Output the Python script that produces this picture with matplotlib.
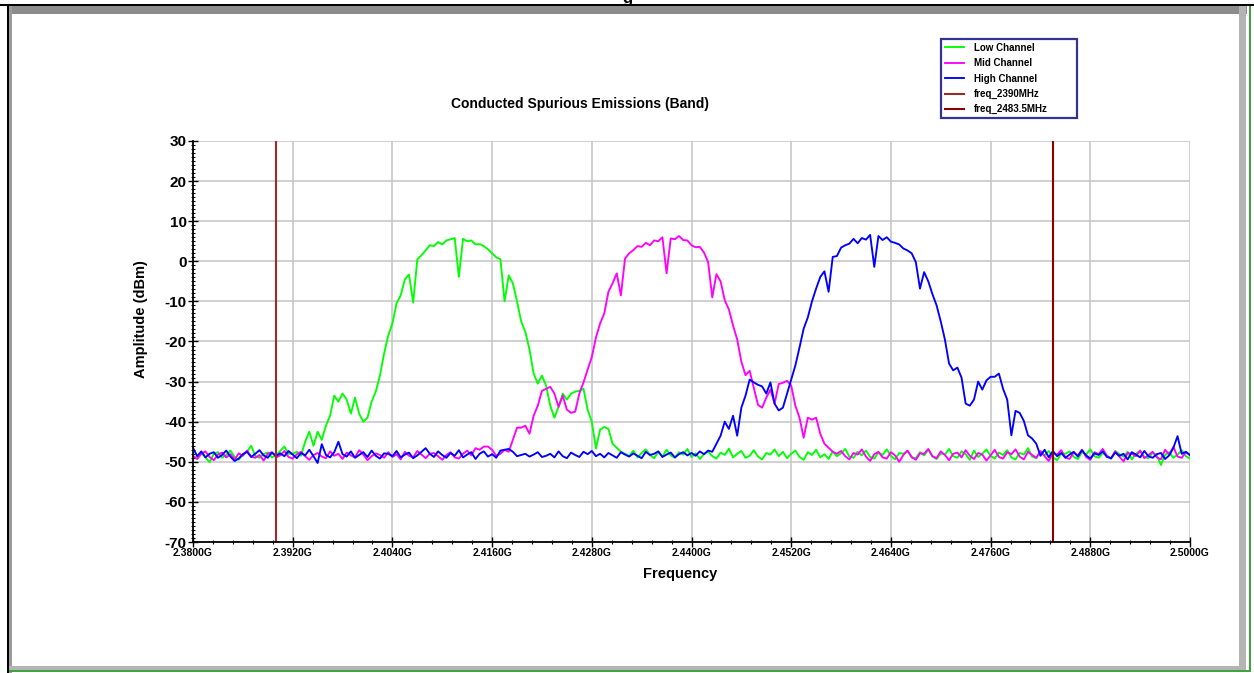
import matplotlib
matplotlib.use("Agg")
import matplotlib.pyplot as plt
from matplotlib.patches import Rectangle
from matplotlib.ticker import FixedLocator, MultipleLocator, FuncFormatter
import numpy as np

plt.rcParams['font.family'] = ['Liberation Sans', 'DejaVu Sans']
plt.rcParams['axes.unicode_minus'] = False

# sweep: 241 points from 2.380 GHz to 2.500 GHz
sweep_start = 2.380
sweep_stop = 2.500
sweep_points = 241

low_channel = [
    -48.5, -49.2, -47.8, -48.9, -50.1, -48.0, -47.6, -49.0, -48.3, -47.2, -48.8, -49.5,
    -48.2, -47.5, -46.0, -48.6, -49.0, -48.1, -47.7, -48.9, -48.4, -47.3, -46.2, -48.0,
    -48.0, -47.5, -48.5,
    -45.0, -42.5, -46.0, -42.5, -44.5, -41.0, -38.5, -33.5, -35.0, -33.0, -34.5, -38.0,
    -34.0, -38.0, -40.0, -39.0, -35.0, -32.5, -28.5, -23.0, -18.5, -15.5, -10.5, -8.5,
    -4.5, -3.3, -10.3, 0.5, 1.5, 2.7, 4.0, 3.8, 4.8, 4.2, 5.2, 5.5,
    5.8, -3.9, 5.6, 5.0, 5.2, 4.2, 4.3, 3.8, 3.0, 2.0, 1.0, 0.5,
    -10.0, -3.5, -5.5, -10.0, -15.0, -17.6, -22.0, -28.0, -30.5, -28.5, -31.0, -36.0,
    -39.0, -36.3, -33.0, -34.5, -33.0, -32.5, -32.3, -31.8, -37.0, -40.0, -46.7, -42.0,
    -41.3, -41.8, -45.5, -46.5, -47.5,
    -48.0, -48.6, -47.2, -48.9, -47.8, -46.9, -48.3, -49.1, -47.5, -48.7, -47.0, -48.4,
    -49.0, -47.6, -48.2, -46.8, -48.8, -47.9, -49.3, -48.1, -47.4, -48.6, -49.2, -47.7,
    -48.3, -46.7, -48.9, -48.0, -47.3, -49.0, -48.5, -47.1, -48.7, -49.4, -47.8, -48.2,
    -46.9, -48.6, -47.5, -49.1, -48.0, -47.2, -48.8, -49.5, -47.6, -48.3, -47.0, -48.9,
    -48.1, -49.3, -47.4, -48.6, -47.9, -46.8, -48.7, -49.0, -47.5, -48.4, -47.2, -48.8,
    -49.2, -47.7, -48.3, -46.9, -48.5, -49.4, -47.8, -48.0, -47.3, -48.9, -49.1, -47.6,
    -48.4, -47.0, -48.7, -49.3, -47.9, -48.2, -46.8, -48.6, -49.0, -47.4, -48.1, -49.5,
    -47.2, -48.8, -48.0, -46.9, -48.5, -49.2, -47.7, -48.3, -47.1, -48.9, -49.4, -47.8,
    -48.2, -46.6, -48.7, -49.1, -47.5, -48.4, -47.3, -48.9, -49.6, -47.9, -48.0, -47.4,
    -48.8, -49.3, -47.6, -48.2, -46.9, -48.6, -49.0, -47.8, -48.5, -49.2, -47.3, -48.1,
    -48.7, -47.5, -49.4, -48.0, -47.2, -48.8, -49.1, -47.7, -48.4, -50.8, -48.3, -47.6,
    -49.0, -48.2, -47.1, -48.6, -49.2,
]

mid_channel = [
    -48.6, -49.3, -48.0, -47.4, -48.8, -49.6, -48.2, -47.7, -48.9, -48.1, -49.4, -47.9,
    -48.5, -47.2, -48.7, -49.0, -48.3, -49.7, -48.0, -47.6, -48.9, -48.4, -47.3, -48.8,
    -49.2, -48.1, -47.5, -48.6, -49.5, -48.3, -47.8, -48.7, -49.1, -47.4, -48.5, -48.0,
    -49.3, -47.7, -48.4, -48.9, -47.1, -48.2, -49.6, -48.6, -47.9, -48.3, -49.0, -47.6,
    -48.8, -48.1, -49.4, -47.5, -48.5, -48.9, -47.3, -48.2, -49.1, -48.0, -47.8, -48.6,
    -49.5, -48.3, -47.6, -48.9, -49.2, -48.0, -47.2, -48.4, -46.6, -47.0, -46.2,
    -46.2, -47.0, -48.5, -48.0, -47.0, -47.5, -44.5, -41.5, -41.5, -41.0, -43.0, -38.5,
    -36.0, -32.3, -31.8, -31.3, -33.0, -36.3, -33.5, -37.0, -37.8, -37.5, -33.0, -30.2,
    -27.0, -23.9, -19.0, -15.5, -13.0, -7.6, -5.5, -3.0, -8.5, 0.7, 2.0, 2.8,
    3.8, 3.6, 4.6, 4.0, 5.2, 5.0, 6.0, -3.0, 5.7, 5.5, 6.3, 5.3,
    5.2, 4.0, 3.5, 3.6, 2.2, -0.2, -9.0, -3.2, -5.0, -9.7, -12.0, -16.0,
    -19.5, -25.0, -28.4, -27.3, -31.5, -35.8, -36.5, -34.0, -32.0, -35.5, -30.6, -30.3,
    -29.8, -31.0, -36.0, -39.0, -44.0, -39.0, -39.5, -39.0, -43.0, -45.5, -46.5, -47.5,
    -48.0, -47.3, -48.6, -49.4, -47.8, -48.2, -46.9, -48.7, -49.8, -48.1, -47.5, -48.9,
    -49.2, -47.6, -48.4, -50.0, -48.3, -47.2, -48.8, -49.5, -47.9, -48.0, -46.8, -48.6,
    -49.1, -47.4, -48.3, -49.6, -48.0, -47.7, -48.9, -47.1, -48.5, -49.3, -47.8, -48.2,
    -49.7, -48.4, -47.0, -48.8, -49.2, -47.6, -48.1, -46.9, -48.7, -49.4, -47.5, -48.3,
    -49.0, -47.3, -48.6, -49.8, -47.9, -48.2, -47.1, -48.9, -49.3, -47.7, -48.4, -47.0,
    -48.8, -49.5, -47.6, -48.1, -46.8, -48.5, -49.2, -47.4, -48.7, -49.9, -47.8, -48.0,
    -48.6, -47.2, -49.1, -48.3, -47.5, -48.9, -49.4, -47.0, -48.2, -46.3, -48.7, -49.0,
    -47.6, -48.4,
]

high_channel = [
    -46.5, -48.6, -47.4, -48.9, -48.0, -47.6, -49.0, -48.3, -47.2, -48.7, -49.8, -49.2,
    -48.1, -47.5, -48.8, -48.0, -47.1, -48.4, -49.0, -47.7, -48.5, -47.9, -48.6, -47.3,
    -48.2, -49.1, -47.8, -48.4, -47.0, -48.6, -50.3, -45.6, -48.3, -48.9, -47.6, -45.0,
    -48.1, -48.7, -47.4, -49.0, -48.3, -47.6, -48.8, -47.2, -48.5, -49.2, -47.9, -48.0,
    -48.6, -47.3, -48.9, -48.2, -47.7, -49.1, -48.4, -47.5, -46.6, -48.0, -48.8, -47.4,
    -48.3, -49.0, -47.8, -48.5, -47.1, -48.9, -48.2, -47.6, -49.3, -48.0, -47.4, -48.7,
    -48.1, -49.0, -47.2, -47.0, -46.8, -47.5, -48.6, -48.3, -48.0, -48.7, -48.2, -47.6,
    -48.8, -48.5, -48.0, -48.9, -47.4, -48.6, -49.1, -47.7, -48.3, -48.8, -47.5, -48.1,
    -47.3, -48.6, -48.0, -48.9, -47.8, -48.4, -49.0, -47.6, -48.2, -48.7, -47.9, -48.5,
    -49.1, -47.5, -48.3, -48.0, -47.4, -48.8, -48.2, -47.7, -48.9, -48.1, -47.6, -48.4,
    -47.8, -48.5, -47.4, -48.1, -47.2,
    -47.5, -45.5, -43.5, -40.0, -41.8, -38.5, -43.5, -36.5, -33.5, -29.5, -30.2, -30.8,
    -31.2, -33.0, -30.2, -35.5, -37.2, -36.5, -33.0, -29.5, -26.0, -21.5, -16.8, -14.0,
    -10.0, -6.8, -3.9, -2.5, -7.6, 1.1, 1.3, 3.4, 4.0, 4.4, 5.6, 4.5,
    5.8, 5.4, 6.6, -1.4, 6.3, 5.3, 6.0, 4.9, 4.6, 4.2, 3.2, 2.7,
    2.0, -0.2, -6.8, -2.7, -5.0, -8.2, -11.0, -15.0, -19.5, -25.5, -27.2, -26.5,
    -29.0, -35.5, -36.0, -34.5, -30.0, -32.0, -29.7, -28.8, -28.8, -28.0, -31.8, -34.5,
    -43.4, -37.3, -37.8, -39.8, -43.4, -44.2, -45.5, -48.5,
    -47.0, -48.9, -47.3, -48.6, -47.8, -49.0, -48.2, -47.5, -48.7, -47.1, -48.4, -49.2,
    -47.9, -48.3, -47.4, -48.8, -49.1, -47.7, -48.5, -48.0, -49.4, -47.6, -48.2, -48.9,
    -47.3, -48.6, -49.0, -48.1, -47.8, -49.3, -48.4, -46.5, -43.6, -48.0, -47.5, -48.3,
]

# band edge markers (GHz)
edge_freqs = [2.390, 2.4835]
edge_labels = ['freq_2390MHz', 'freq_2483.5MHz']
edge_colors = ['#9b2c2c', '#8b0000']

# frequency axis ticks (GHz)
x_major = [2.380, 2.392, 2.404, 2.416, 2.428, 2.440, 2.452, 2.464, 2.476, 2.488, 2.500]

freq = np.linspace(sweep_start, sweep_stop, sweep_points)

W, H = 1254, 673
fig = plt.figure(figsize=(W / 100, H / 100), dpi=100)
ax = fig.add_axes([193 / W, 1 - 542 / H, (1190 - 193) / W, (542 - 141) / H])

ax.plot(freq, low_channel, color='#00ff00', lw=1.35, label='Low Channel')
ax.plot(freq, mid_channel, color='#ff00ff', lw=1.35, label='Mid Channel')
ax.plot(freq, high_channel, color='#0000ff', lw=1.35, label='High Channel')
for f, lab, c in zip(edge_freqs, edge_labels, edge_colors):
    ax.axvline(f, color=c, lw=1.5, label=lab)

ax.set_xlim(2.380, 2.500)
ax.set_ylim(-70, 30)
ax.xaxis.set_major_locator(FixedLocator(x_major))
x_minor = [a + k * (b - a) / 5 for a, b in zip(x_major[:-1], x_major[1:]) for k in range(1, 5)]
ax.xaxis.set_minor_locator(FixedLocator(x_minor))
ax.yaxis.set_major_locator(MultipleLocator(10))
ax.yaxis.set_minor_locator(MultipleLocator(1))
ax.xaxis.set_major_formatter(FuncFormatter(lambda v, p: f'{v:.4f}G'))
ax.grid(True, which='major', color='#c8c8c8', lw=1.2)
ax.set_axisbelow(True)

for s in ['top', 'right']:
    ax.spines[s].set_visible(False)
for s in ['left', 'bottom']:
    ax.spines[s].set_linewidth(1.3)

ax.tick_params(axis='both', which='major', direction='inout', length=7, width=1)
ax.tick_params(axis='both', which='minor', direction='inout', length=3.5, width=0.8)
ax.tick_params(axis='x', labelsize=7.5, pad=1)
ax.tick_params(axis='y', labelsize=11, pad=1)
for t in ax.get_xticklabels() + ax.get_yticklabels():
    t.set_fontweight('bold')

fig.text(580 / W, 1 - 104 / H, 'Conducted Spurious Emissions (Band)',
         ha='center', va='center', fontsize=10, fontweight='bold')
fig.text(141 / W, 1 - 319 / H, 'Amplitude (dBm)', rotation=90,
         ha='center', va='center', fontsize=10.5, fontweight='bold')
fig.text(680 / W, 1 - 574 / H, 'Frequency',
         ha='center', va='center', fontsize=10.5, fontweight='bold')

# legend box spans x 941..1077, y 39..118 (pixels)
handles, labels = ax.get_legend_handles_labels()
leg = fig.legend(handles, labels, loc='upper left', mode='expand',
                 bbox_to_anchor=(941 / W, 1 - 118 / H, 136 / W, 79 / H), fontsize=7,
                 frameon=True, fancybox=False, edgecolor='#00007a',
                 handlelength=2.0, handletextpad=1.0, labelspacing=0.55,
                 borderpad=0.4, borderaxespad=0)
leg.get_frame().set_linewidth(1.6)
for t in leg.get_texts():
    t.set_fontweight('bold')

# window frame around the chart
frame = [
    (0, 4, W, 2, 'black'),
    (7, 4, 2, H - 4, 'black'),
    (9, 6, 1238, 8, '#8c8c8c'),
    (9, 6, 3, H - 6, '#9a9a9a'),
    (1239, 6, 7, 664, '#b4b4b4'),
    (9, 666, 1237, 4, '#b4b4b4'),
    (1249, 6, 2, 666, '#3fa33f'),
    (9, 670, 1242, 2, '#3fa33f'),
]
for x0, y0, w, h, c in frame:
    fig.patches.append(Rectangle((x0 / W, 1 - (y0 + h) / H), w / W, h / H,
                                 transform=fig.transFigure, color=c, lw=0))

fig.text(627 / W, 1 - 3 / H, 'g', ha='center', va='baseline',
         fontsize=12, fontweight='bold')

fig.savefig('out.png', dpi=100)
